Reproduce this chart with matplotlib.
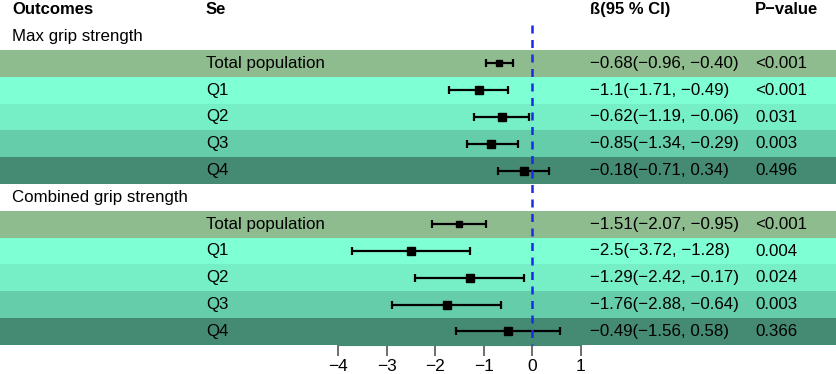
import numpy as np
import matplotlib.pyplot as plt

plt.rcParams['font.family'] = ['Liberation Sans', 'DejaVu Sans']

# data
groups = ['Max grip strength', 'Combined grip strength']
subgroups = ['Total population', 'Q1', 'Q2', 'Q3', 'Q4']
beta = [[-0.68, -1.1, -0.62, -0.85, -0.18],
        [-1.51, -2.5, -1.29, -1.76, -0.49]]
lower = [[-0.96, -1.71, -1.19, -1.34, -0.71],
         [-2.07, -3.72, -2.42, -2.88, -1.56]]
upper = [[-0.40, -0.49, -0.06, -0.29, 0.34],
         [-0.95, -1.28, -0.17, -0.64, 0.58]]
ci_text = [['−0.68(−0.96, −0.40)', '−1.1(−1.71, −0.49)', '−0.62(−1.19, −0.06)',
            '−0.85(−1.34, −0.29)', '−0.18(−0.71, 0.34)'],
           ['−1.51(−2.07, −0.95)', '−2.5(−3.72, −1.28)', '−1.29(−2.42, −0.17)',
            '−1.76(−2.88, −0.64)', '−0.49(−1.56, 0.58)']]
pvals = [['<0.001', '<0.001', '0.031', '0.003', '0.496'],
         ['<0.001', '0.004', '0.024', '0.003', '0.366']]
headers = ['Outcomes', 'Se', 'ß(95 % CI)', 'P−value']
xticks = [-4, -3, -2, -1, 0, 1]

band_colors = ['#8FBC8F', '#7FFFD4', '#76EEC6', '#66CDAA', '#458B74']
marker_sizes = [4.2, 5.5, 5.5, 5.5, 5.5]

W, H = 837, 374
fig = plt.figure(figsize=(W / 100, H / 100), dpi=100)
ax = fig.add_axes([0, 0, 1, 1])

# pixel mapping: x = 532.3 + 48.6 * beta ; y = 9.8 + row * 26.8
x0, sx = 532.3, 48.6
y0, sy = 9.8, 26.8
ax.set_xlim(-x0 / sx, (W - x0) / sx)
ax.set_ylim((H - y0) / sy, -y0 / sy)

col_x = [12 / W, 206 / W, 590 / W, 755 / W]
tr = ax.get_yaxis_transform()

for c, h in zip(col_x, headers):
    ax.text(c, 0, h, transform=tr, fontsize=12, fontweight='bold', va='center')

row = 1
for g in range(len(groups)):
    ax.text(col_x[0], row, groups[g], transform=tr, fontsize=12.2, va='center')
    row += 1
    for i, sg in enumerate(subgroups):
        ax.axhspan(row - 0.5, row + 0.5, color=band_colors[i], lw=0, zorder=0)
        ax.text(col_x[1], row, sg, transform=tr, fontsize=12.2, va='center')
        ax.text(col_x[2], row, ci_text[g][i], transform=tr, fontsize=12.2, va='center')
        ax.text(col_x[3], row, pvals[g][i], transform=tr, fontsize=12.2, va='center')
        b, lo, up = beta[g][i], lower[g][i], upper[g][i]
        ax.errorbar(b, row, xerr=[[b - lo], [up - b]], fmt='s', color='black',
                    ms=marker_sizes[i], elinewidth=1.6, capsize=3, capthick=1.6, zorder=3)
        row += 1

ax.vlines(0, 0.58, 12.5, colors='#1A2BE8', linestyles=(0, (3.2, 2.6)), lw=1.8, zorder=4)

for s in ['top', 'left', 'right']:
    ax.spines[s].set_visible(False)
ax.spines['bottom'].set_position(('data', 12.5))
ax.spines['bottom'].set_bounds(xticks[0], xticks[-1])
ax.spines['bottom'].set_color('#458B74')
ax.set_xticks(xticks)
ax.set_xticklabels([str(t).replace('-', '−') for t in xticks])
ax.tick_params(axis='x', length=8, width=1.2, color='#555555', labelsize=12.5, pad=2)
ax.set_yticks([])

plt.savefig('out.png', dpi=100)
